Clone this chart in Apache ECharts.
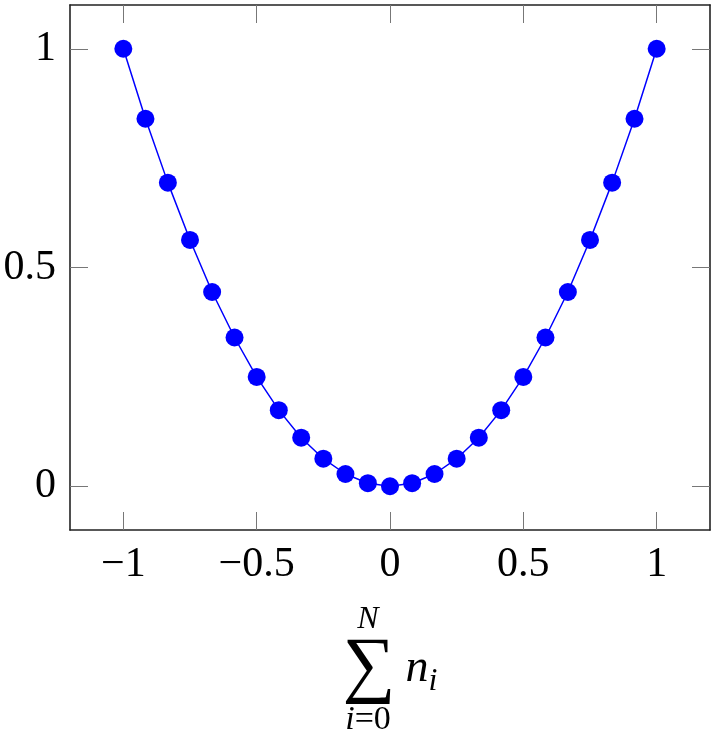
<!DOCTYPE html>
<html>
<head>
<meta charset="utf-8">
<script src="https://cdn.jsdelivr.net/npm/echarts@6/dist/echarts.min.js"></script>
<style>
    html, body { margin: 0; padding: 0; background: #fff; }
    #chart { width: 716px; height: 735px; }
</style>
</head>
<body>
<div id="chart"></div>
<script>
// values
let xValues = [-1, -0.917, -0.833, -0.75, -0.667, -0.583, -0.5, -0.417, -0.333, -0.25, -0.167, -0.083, 0,
    0.083, 0.167, 0.25, 0.333, 0.417, 0.5, 0.583, 0.667, 0.75, 0.833, 0.917, 1];
let yValues = [1, 0.84, 0.694, 0.563, 0.444, 0.34, 0.25, 0.174, 0.111, 0.063, 0.028, 0.007, 0,
    0.007, 0.028, 0.063, 0.111, 0.174, 0.25, 0.34, 0.444, 0.563, 0.694, 0.84, 1];
let xTicks = [-1, -0.5, 0, 0.5, 1];
let yTicks = [0, 0.5, 1];

let labelFont = 'Liberation Serif';
let points = xValues.map(function (x, i) { return [x, yValues[i]]; });

function fmt(v) {
    return String(v).replace('-', '\u2212');
}

function makeAxis(ticks, pos, showLabels, range) {
    return {
        type: 'value',
        position: pos,
        min: range[0],
        max: range[1],
        axisLine: { show: true, onZero: false, lineStyle: { color: '#222', width: 1.6 } },
        axisTick: {
            show: true, inside: true, length: 18, customValues: ticks,
            lineStyle: { color: '#777', width: 1 }
        },
        axisLabel: {
            show: showLabels, customValues: ticks, formatter: fmt,
            fontFamily: labelFont, fontSize: 42, color: '#000', margin: 14
        },
        splitLine: { show: false }
    };
}

let myChart = echarts.init(document.getElementById('chart'));
let xBottom = makeAxis(xTicks, 'bottom', true, [-1.2, 1.2]);
xBottom.name = '{sup|N}\n{sum|\u2211}{n|n}{sub|i}\n{lowi|i}{low|=0}';
xBottom.nameLocation = 'middle';
xBottom.nameGap = 74;
xBottom.nameTextStyle = {
    fontFamily: labelFont,
    color: '#000',
    verticalAlign: 'top',
    rich: {
        sup: { fontSize: 32, fontStyle: 'italic', fontFamily: labelFont, padding: [0, 44, 0, 0], lineHeight: 32 },
        sum: { fontSize: 74, fontFamily: labelFont, lineHeight: 66 },
        n: { fontSize: 46, fontStyle: 'italic', fontFamily: labelFont, padding: [0, 0, 0, 10] },
        sub: { fontSize: 32, fontStyle: 'italic', fontFamily: labelFont, verticalAlign: 'bottom', padding: [0, 0, 4, 0] },
        lowi: { fontSize: 34, fontStyle: 'italic', fontFamily: labelFont, lineHeight: 36 },
        low: { fontSize: 34, fontFamily: labelFont, padding: [0, 44, 0, 0], lineHeight: 36 }
    }
};
let yLeft = makeAxis(yTicks, 'left', true, [-0.1, 1.1]);

let option = {
    animation: false,
    grid: { left: 70, right: 6, top: 5, bottom: 205, outerBoundsMode: 'none' },
    xAxis: [xBottom, makeAxis(xTicks, 'top', false, [-1.2, 1.2])],
    yAxis: [yLeft, makeAxis(yTicks, 'right', false, [-0.1, 1.1])],
    series: [{
        type: 'line',
        data: points,
        symbol: 'circle',
        symbolSize: 18,
        itemStyle: { color: '#0000ff' },
        lineStyle: { color: '#0000ff', width: 1.5 }
    }]
};
myChart.setOption(option);
</script>
</body>
</html>
